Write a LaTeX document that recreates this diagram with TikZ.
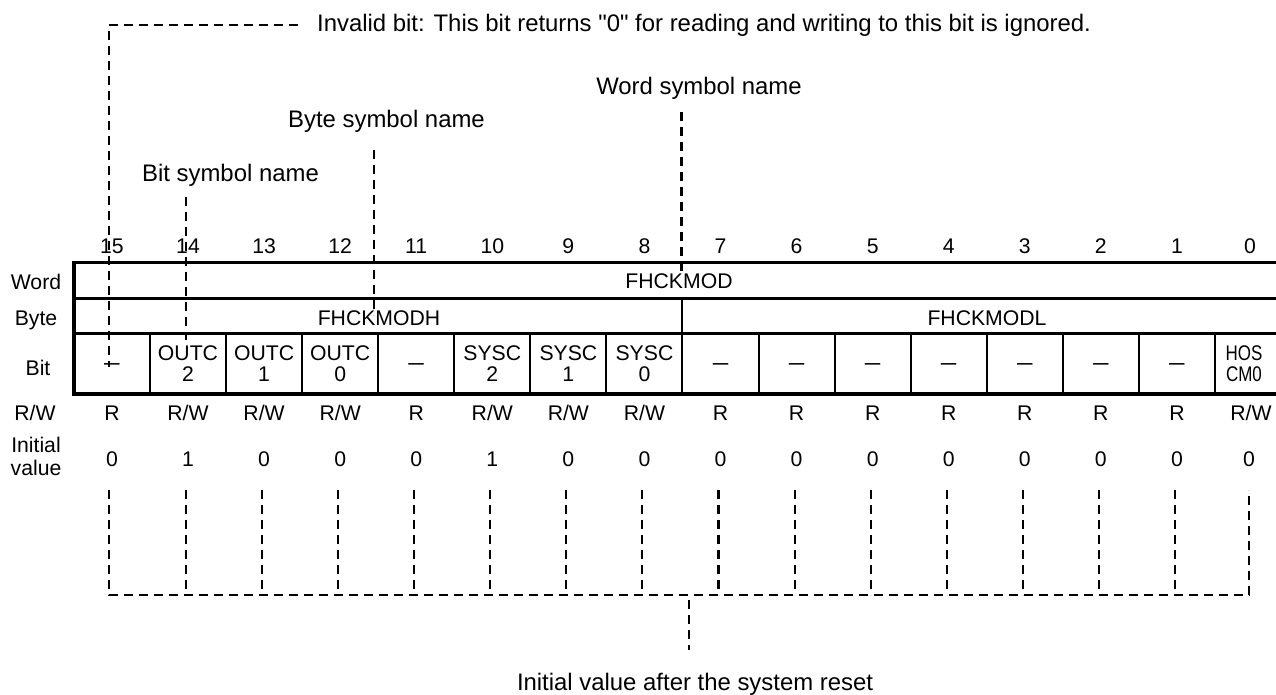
\documentclass[tikz,border=0pt]{standalone}
\usepackage{fontspec}
\setmainfont{Liberation Sans}
% same face without the TeX quote mapping, so " stays straight
\newfontfamily\plainsans{Liberation Sans}
\begin{document}
\begin{tikzpicture}[x=1pt,y=-1pt,
  frame/.style={line width=3.5pt},
  divider/.style={line width=2pt},
  leader/.style={line width=2.1pt,dash pattern=on 9pt off 6pt},
  note/.style={font=\plainsans\fontsize{23.9}{28}\selectfont,inner sep=0pt,anchor=base},
  txt/.style={font=\fontsize{21.2}{21.7}\selectfont,inner sep=0pt,anchor=base},
  cell/.style={font=\fontsize{21.2}{21.7}\selectfont,inner sep=0pt,align=center},
  twoline/.style={font=\fontsize{21.2}{23.4}\selectfont,inner sep=0pt,align=center},
  nobit/.style={font=\bfseries\fontsize{15.5}{16}\selectfont,inner sep=0pt,anchor=base},
]
\useasboundingbox (0,0) rectangle (1276,695);
\clip (0,0) rectangle (1276,695);

% register frame: word, byte and bit rows
\def\tl{73.9}\def\cw{76.07}\def\tr{1291}
\draw[frame] (\tl,262.3) rectangle (\tr,394);
\draw[frame] (\tl,298.3) -- (\tr,298.3);
\draw[frame] (\tl,333.3) -- (\tr,333.3);
\foreach \i in {1,...,15}
  \draw[divider] ({\tl+\i*\cw},333.3) -- ({\tl+\i*\cw},394);
\draw[divider] ({\tl+8*\cw},298.3) -- ({\tl+8*\cw},333.3);

% row headings
\node[txt] (lWord) at (36,289.3) {Word};
\node[txt] (lByte) at (36,325) {Byte};
\node[txt] (lBit) at (38,375) {Bit};
\node[txt] (lRW) at (35,420) {R/W};
\node[twoline] (lInit) at (36,456.7) {Initial\\value};

% register names
\node[txt] (wordname) at (679,288.3) {FHCKMOD};
\node[txt] (bytehi) at (379,325) {FHCKMODH};
\node[txt] (bytelo) at (987,325) {FHCKMODL};

% bit numbers, access and reset values
\foreach \b in {1,...,15}{
  \pgfmathsetmacro\cx{111.95+(15-\b)*76.07}
  \node[txt] (num\b) at (\cx,253) {\b};
}
\node[txt] (num0) at (1250,253) {0};
\foreach \b in {14,13,12,10,9,8}{
  \pgfmathsetmacro\cx{111.95+(15-\b)*76.07}
  \node[txt] (acc\b) at (\cx,420) {R/W};
}
\node[txt] (acc0) at (1251,420) {R/W};
\foreach \b in {15,11,7,6,5,4,3,2,1}{
  \pgfmathsetmacro\cx{111.95+(15-\b)*76.07}
  \node[txt] (acc\b) at (\cx,420) {R};
}
\foreach \b/\v in {15/0,14/1,13/0,12/0,11/0,10/1,9/0,8/0,7/0,6/0,5/0,4/0,3/0,2/0,1/0}{
  \pgfmathsetmacro\cx{111.95+(15-\b)*76.07}
  \node[txt] (ini\b) at (\cx,466.7) {\v};
}
\node[txt] (ini0) at (1249,466.7) {0};

% bit symbols
\foreach \b in {15,11,7,6,5,4,3,2,1}{
  \pgfmathsetmacro\cx{111.95+(15-\b)*76.07}
  \node[nobit] (bit\b) at (\cx,368) {—};
}
\foreach \b/\s in {14/2,13/1,12/0}{
  \pgfmathsetmacro\cx{111.95+(15-\b)*76.07}
  \node[cell] (bit\b) at (\cx,363.7) {OUTC\\\s};
}
\foreach \b/\s in {10/2,9/1,8/0}{
  \pgfmathsetmacro\cx{111.95+(15-\b)*76.07}
  \node[cell] (bit\b) at (\cx,363.7) {SYSC\\\s};
}
\node[cell] (bit0) at (1244,363.7) {\scalebox{0.8}[1]{HOS}\\\scalebox{0.8}[1]{CM0}};

% explanatory notes and their leaders
\node[note,anchor=base west] (invalid) at (317,32)
  {Invalid bit: This bit returns "0" for reading and writing to this bit is ignored.};
\node[note] (wordsym) at (699,95) {Word symbol name};
\node[note] (bytesym) at (386.5,128) {Byte symbol name};
\node[note] (bitsym) at (230.5,181.5) {Bit symbol name};
\node[note] (reset) at (695,690) {Initial value after the system reset};

\coordinate (invA) at (298,25);
\coordinate (invB) at (109,367);
\draw[leader] (invA) -| (invB);
\coordinate (bitA) at (186,197);
\coordinate (bitB) at (186,340);
\draw[leader] (bitA) -- (bitB);
\coordinate (byteA) at (374,150);
\coordinate (byteB) at (374,315);
\draw[leader] (byteA) -- (byteB);
\coordinate (wordA) at (681.5,112);
\coordinate (wordB) at (681.5,273);
\draw[leader] (wordA) -- (wordB);

% reset-value bracket
\coordinate (brL) at (109,490);
\coordinate (brR) at (1249,490);
\draw[leader] (brL) -- (109,595) -- (1249,595) -- (brR);
\foreach \b in {14,...,1}{
  \pgfmathsetmacro\cx{111.95+(15-\b)*76.07-2}
  \draw[leader] (\cx,490) -- (\cx,595);
}
\coordinate (resetA) at (689,600);
\coordinate (resetB) at (689,650);
\draw[leader] (resetA) -- (resetB);
\end{tikzpicture}
\end{document}
